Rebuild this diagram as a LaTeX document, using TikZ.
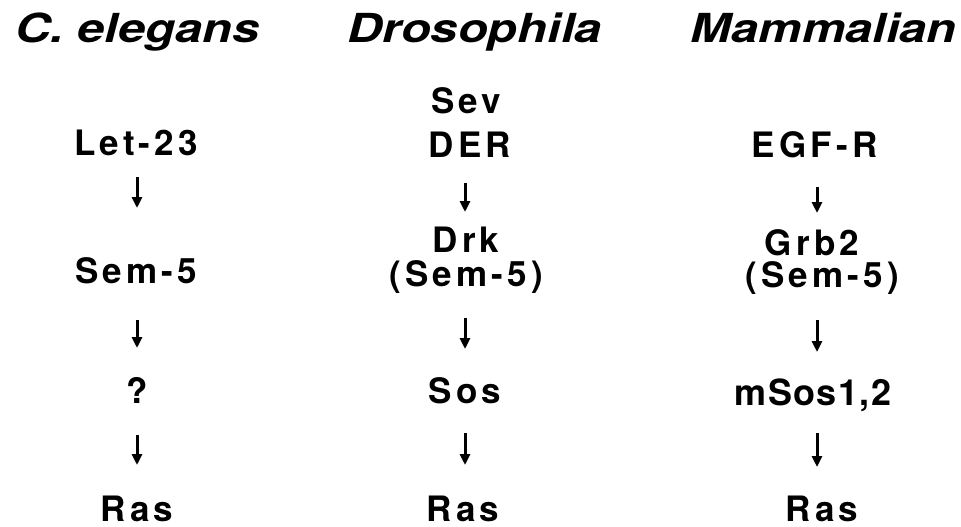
\documentclass[tikz,border=0pt]{standalone}
\usepackage{fontspec}
\setmainfont{TeX Gyre Heros}
\newfontfamily\titlefont{TeX Gyre Heros}[BoldItalicFont={* Bold Italic}]
\newfontfamily\bodyfont{TeX Gyre Heros}[LetterSpace=12]
\newfontfamily\plainbody{TeX Gyre Heros}[LetterSpace=4]
\usetikzlibrary{arrows.meta}
\begin{document}
\begin{tikzpicture}[x=1pt,y=-1pt,
  ttl/.style={inner sep=0pt,font=\titlefont\fontsize{40}{42}\bfseries\itshape,xscale=1.22},
  gene/.style={inner sep=0pt,anchor=base,font=\bodyfont\fontsize{35}{37}\bfseries},
  genep/.style={inner sep=0pt,anchor=base,font=\plainbody\fontsize{36}{38}\bfseries},
  arr/.style={line width=3pt,-{Triangle[width=10pt,length=11pt]}}]
\useasboundingbox (0,0) rectangle (961,527);
% titles
\node[ttl,anchor=base west] (t1) at (15,43) {C. elegans};
\node[ttl,anchor=base east] (t2) at (602,43) {Drosophila};
\node[ttl,anchor=base east] (t3) at (957,43) {Mammalian};
% column 1
\node[gene] (let) at (136,155) {Let-23};
\node[gene] (sem) at (136,283) {Sem-5};
\node[gene] (q) at (137,403) {?};
\node[gene] (ras1) at (137,521) {Ras};
\coordinate (a1s) at (137,177); \coordinate (a1e) at (137,208);
\coordinate (a2s) at (137,320); \coordinate (a2e) at (137,348);
\coordinate (a3s) at (137,435); \coordinate (a3e) at (137,465);
\draw[arr] (a1s) -- (a1e);
\draw[arr] (a2s) -- (a2e);
\draw[arr] (a3s) -- (a3e);
% column 2
\node[gene] (sev) at (466,113) {Sev};
\node[gene,text depth=0pt] (der) at (470,157) {DER};
\node[gene,text depth=0pt] (drk) at (466,252) {Drk};
\node[gene] (sem2) at (466,286) {(Sem-5)};
\node[gene] (sos) at (465,403) {Sos};
\node[gene] (ras2) at (463,521) {Ras};
\coordinate (b1s) at (465,183); \coordinate (b1e) at (465,212);
\coordinate (b2s) at (465,318); \coordinate (b2e) at (465,349);
\coordinate (b3s) at (465,433); \coordinate (b3e) at (465,465);
\draw[arr] (b1s) -- (b1e);
\draw[arr] (b2s) -- (b2e);
\draw[arr] (b3s) -- (b3e);
% column 3
\node[gene] (egf) at (815,157) {EGF-R};
\node[gene,text depth=0pt] (grb) at (812,255) {Grb2};
\node[gene] (sem3) at (822,287) {(Sem-5)};
\node[genep] (msos) at (813,405) {mSos1,2};
\node[gene] (ras3) at (822,521) {Ras};
\coordinate (c1s) at (817,187); \coordinate (c1e) at (817,213);
\coordinate (c2s) at (817,320); \coordinate (c2e) at (817,352);
\coordinate (c3s) at (817,433); \coordinate (c3e) at (817,467);
\draw[arr] (c1s) -- (c1e);
\draw[arr] (c2s) -- (c2e);
\draw[arr] (c3s) -- (c3e);
\end{tikzpicture}
\end{document}
